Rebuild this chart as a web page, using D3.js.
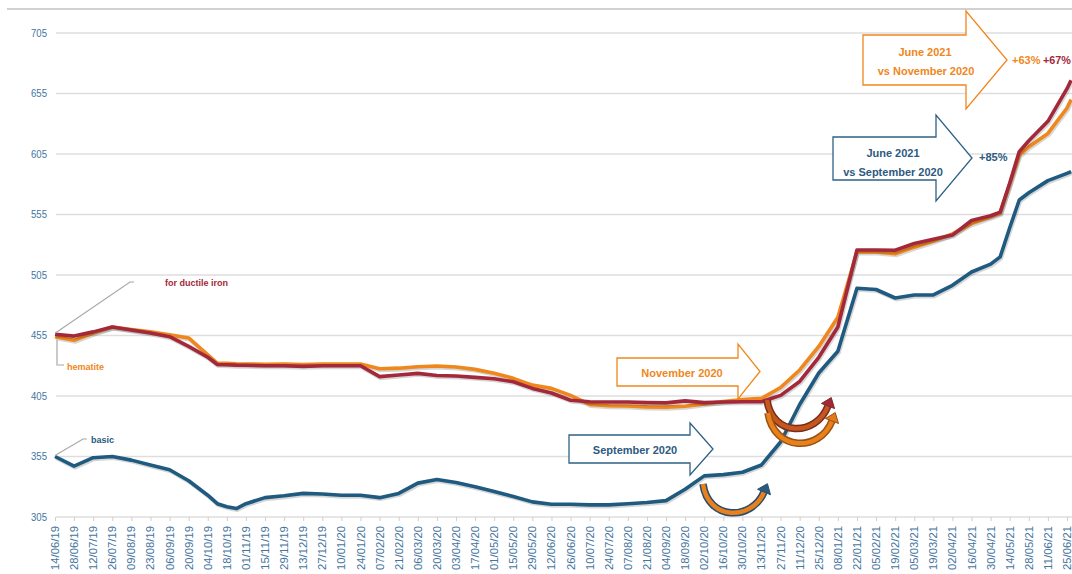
<!DOCTYPE html>
<html>
<head>
<meta charset="utf-8">
<script src="https://cdn.jsdelivr.net/npm/d3@7"></script>
<style>
  body { margin: 0; background: #fff; }
  svg { display: block; font-family: "Liberation Sans", Arial, sans-serif; }
</style>
</head>
<body>
<svg id="chart" width="1072" height="574"></svg>
<script>
// Pig iron prices, three grades, biweekly readings (a few extra weeks where the line bends)
const dates = ["14/06/19","28/06/19","12/07/19","26/07/19","09/08/19","23/08/19","06/09/19","20/09/19","04/10/19","11/10/19",
  "18/10/19","25/10/19","01/11/19","15/11/19","29/11/19","13/12/19","27/12/19","10/01/20","24/01/20","07/02/20",
  "21/02/20","06/03/20","20/03/20","03/04/20","17/04/20","01/05/20","15/05/20","29/05/20","12/06/20","26/06/20",
  "10/07/20","24/07/20","07/08/20","21/08/20","04/09/20","18/09/20","02/10/20","16/10/20","30/10/20","13/11/20",
  "27/11/20","11/12/20","25/12/20","08/01/21","22/01/21","05/02/21","19/02/21","05/03/21","19/03/21","02/04/21",
  "16/04/21","30/04/21","07/05/21","14/05/21","21/05/21","28/05/21","11/06/21","25/06/21","28/06/21"];

const basic = [355,347,354,355,352,348,344,335,323,316,
  313.5,312,316,321,322.5,324.5,324,323,323,321,
  324.5,333,336,333.5,330,326,322,317.5,315.5,315.5,
  315,315,316,317,318.5,328,339,340,342,348,
  367,398,424,442,494,493,486,488.5,488.5,496.5,
  507.5,514,520,544,567,573,583,589,590.5];

const hematite = [454,451,457,462,460,458,455.5,453,439,432,
  432,431.6,431.5,431.2,431.4,431,431.5,431.5,431.5,427.5,
  428,429.2,429.8,429,427,423.8,419.6,414,411.3,405.5,
  398,397,396.7,396,395.8,396.5,398.5,400.5,402,403,
  412,426.5,446,470,524.3,524,522.5,528,533,539,
  547.5,553,556,580,604,611,622,643,650];

const ductile = [456,454.5,458,462,459.5,457,454,446,437,431,
  430.8,430.5,430.4,430,430,429.5,430,430,430,421,
  422.4,423.7,422,421.5,420.4,419.3,416.8,411.3,407.5,401.5,
  400.3,400,400,399.5,399.3,401,399.5,400,400.3,400.3,
  405.5,417,437,462,525.7,525.7,525.5,531,534.5,538,
  550,554,557,581,607,616,632,659,666];

const tickLabels = ["14/06/19","28/06/19","12/07/19","26/07/19","09/08/19","23/08/19","06/09/19","20/09/19","04/10/19","18/10/19",
  "01/11/19","15/11/19","29/11/19","13/12/19","27/12/19","10/01/20","24/01/20","07/02/20","21/02/20","06/03/20",
  "20/03/20","03/04/20","17/04/20","01/05/20","15/05/20","29/05/20","12/06/20","26/06/20","10/07/20","24/07/20",
  "07/08/20","21/08/20","04/09/20","18/09/20","02/10/20","16/10/20","30/10/20","13/11/20","27/11/20","11/12/20",
  "25/12/20","08/01/21","22/01/21","05/02/21","19/02/21","05/03/21","19/03/21","02/04/21","16/04/21","30/04/21",
  "14/05/21","28/05/21","11/06/21","25/06/21"];

const yTicks = [305, 355, 405, 455, 505, 555, 605, 655, 705];

const W = 1072;
const parse = d3.timeParse("%d/%m/%y");
const svg = d3.select("#chart");

const x = d3.scaleTime()
    .domain([parse(tickLabels[0]), parse(tickLabels[tickLabels.length - 1])])
    .range([55, 1067]);
const y = d3.scaleLinear().domain([305, 705]).range([517, 33]);

const blue = "#1f5a80", orange = "#ef871c", red = "#a3283a";
const axisText = "#4474a0";

// top rule of the slide
svg.append("line")
    .attr("x1", 7).attr("x2", W).attr("y1", 9).attr("y2", 9)
    .attr("stroke", "#c2c2c2").attr("stroke-width", 1.5);

// gridlines
svg.append("g").selectAll("line")
    .data(yTicks)
    .join("line")
    .attr("x1", 56).attr("x2", W)
    .attr("y1", d => y(d)).attr("y2", d => y(d))
    .attr("stroke", "#dedede").attr("stroke-width", 1.5);

// y axis labels
let yAxis = svg.append("g")
    .attr("transform", "translate(50,0)")
    .call(d3.axisLeft(y).tickValues(yTicks).tickSize(0).tickPadding(3));
yAxis.select(".domain").remove();
yAxis.selectAll("text")
    .style("font-size", "10.5px")
    .style("font-family", "Liberation Sans, Arial, sans-serif")
    .attr("fill", axisText)
    .attr("textLength", 16)
    .attr("lengthAdjust", "spacingAndGlyphs");

// x axis: rotated biweekly dates
let xAxis = svg.append("g")
    .attr("transform", "translate(0," + y(305) + ")")
    .call(d3.axisBottom(x)
        .tickValues(tickLabels.map(parse))
        .tickFormat(d3.timeFormat("%d/%m/%y"))
        .tickSize(4).tickSizeOuter(0));
xAxis.select(".domain").remove();
xAxis.selectAll(".tick line").attr("stroke", "#cfcfcf");
xAxis.selectAll(".tick text")
    .attr("transform", "rotate(-90)")
    .attr("text-anchor", "end")
    .attr("x", -9).attr("y", 0).attr("dy", "0.35em")
    .style("font-size", "10px")
    .style("font-family", "Liberation Sans, Arial, sans-serif")
    .attr("fill", axisText)
    .attr("textLength", 44)
    .attr("lengthAdjust", "spacingAndGlyphs");

// the three price lines
const series = [
    {name: "basic", values: basic, color: blue},
    {name: "hematite", values: hematite, color: orange},
    {name: "for ductile iron", values: ductile, color: red}
];
const line = d3.line()
    .x((d, i) => x(parse(dates[i])))
    .y(d => y(d));

series.forEach(s => {
    svg.append("path")
        .attr("d", line(s.values))
        .attr("fill", "none")
        .attr("stroke", "#000").attr("stroke-opacity", 0.16)
        .attr("stroke-width", 4)
        .attr("stroke-linejoin", "round")
        .attr("transform", "translate(1,1.5)");
    svg.append("path")
        .attr("d", line(s.values))
        .attr("fill", "none")
        .attr("stroke", s.color)
        .attr("stroke-width", 3.6)
        .attr("stroke-linejoin", "round");
});

// series labels with leader lines
const x0 = x(parse(dates[0]));
const leader = (pts) => svg.append("polyline")
    .attr("points", pts.map(p => p.join(",")).join(" "))
    .attr("fill", "none").attr("stroke", "#a8a8a8").attr("stroke-width", 1.2);

leader([[x0, y(ductile[0]) - 1], [130, 282], [134, 282]]);
leader([[x0 + 2, y(hematite[0]) + 3], [x0 + 2, 365], [64, 365]]);
leader([[x0, y(basic[0]) - 1], [83, 439], [87, 439]]);

const label = (txt, lx, ly, color, size, anchor) => svg.append("text")
    .attr("x", lx).attr("y", ly).attr("dy", "0.35em")
    .attr("text-anchor", anchor || "start")
    .attr("fill", color)
    .style("font-size", size + "px")
    .style("font-weight", "bold")
    .text(txt);

label("for ductile iron", 165, 283, red, 9);
label("hematite", 67, 367, orange, 9);
label("basic", 91, 440, blue, 9);

// block arrows
const blockArrow = (a) => {
    const mid = (a.headTop + a.headBot) / 2;
    svg.append("path")
        .attr("d", `M${a.x0},${a.top} L${a.xh},${a.top} L${a.xh},${a.headTop} L${a.tip},${mid} ` +
                   `L${a.xh},${a.headBot} L${a.xh},${a.bot} L${a.x0},${a.bot} Z`)
        .attr("fill", "#fff")
        .attr("stroke", a.color)
        .attr("stroke-width", 1.3);
};

blockArrow({x0: 617, top: 358, bot: 386, xh: 738, headTop: 344, headBot: 399, tip: 760, color: orange});
blockArrow({x0: 569, top: 435, bot: 463, xh: 690, headTop: 423, headBot: 475, tip: 713, color: "#2d6185"});
blockArrow({x0: 863, top: 35, bot: 85, xh: 966, headTop: 11, headBot: 109, tip: 1007, color: orange});
blockArrow({x0: 833, top: 137, bot: 180, xh: 936, headTop: 115, headBot: 201, tip: 972, color: "#2d6185"});

label("November 2020", 682, 373, orange, 11, "middle");
label("September 2020", 635, 450, "#2d5a80", 11, "middle");
label("June 2021", 925, 52, orange, 11, "middle");
label("vs November 2020", 926, 71, orange, 11, "middle");
label("+63%", 1012, 60, orange, 11);
label("+67%", 1043, 60, red, 11).attr("textLength", 28).attr("lengthAdjust", "spacingAndGlyphs");
label("June 2021", 893, 153, "#2d5a80", 11, "middle");
label("vs September 2020", 893, 172, "#2d5a80", 11, "middle");
label("+85%", 979, 157, "#2d5a80", 11);

// curved "turn" arrows
const curvedArrow = (c) => {
    const path = `M${c.x1},${c.y1} C${c.c1x},${c.cy} ${c.c2x},${c.cy} ${c.x2},${c.y2}`;
    svg.append("path").attr("d", path).attr("fill", "none")
        .attr("stroke", c.edge).attr("stroke-width", 7.5);
    svg.append("path").attr("d", path).attr("fill", "none")
        .attr("stroke", c.body).attr("stroke-width", 4.5);
    let dx = c.x2 - c.c2x, dy = c.y2 - c.cy;
    const len = Math.hypot(dx, dy);
    dx /= len; dy /= len;
    const px = -dy, py = dx;
    const tipX = c.x2 + dx * 9, tipY = c.y2 + dy * 9;
    svg.append("path")
        .attr("d", `M${tipX},${tipY} L${c.x2 + px * 7},${c.y2 + py * 7} L${c.x2 - px * 7},${c.y2 - py * 7} Z`)
        .attr("fill", c.head).attr("stroke", c.edge).attr("stroke-width", 1);
};

curvedArrow({x1: 703, y1: 484, c1x: 708, c2x: 752, cy: 521, x2: 764, y2: 492,
    body: "#e8801e", edge: "#2a4d6c", head: "#2a5a80"});
curvedArrow({x1: 767, y1: 400, c1x: 772, c2x: 816, cy: 437, x2: 828, y2: 406,
    body: "#c4581c", edge: "#7a2a20", head: red});
curvedArrow({x1: 768, y1: 413, c1x: 774, c2x: 820, cy: 452, x2: 832, y2: 421,
    body: "#e8801e", edge: "#9a5210", head: "#e07a1a"});
</script>
</body>
</html>
